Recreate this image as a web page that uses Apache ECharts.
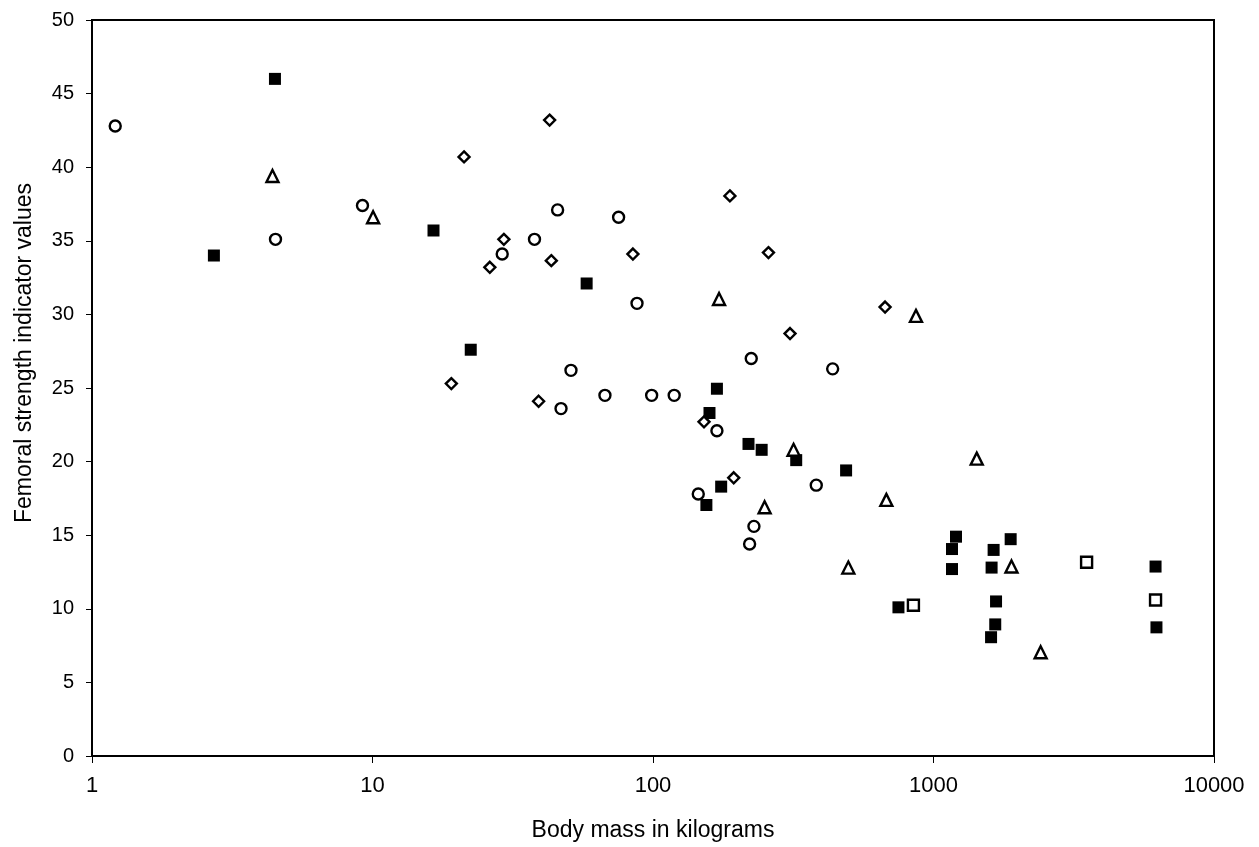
<!DOCTYPE html>
<html>
<head>
<meta charset="utf-8">
<script src="https://cdn.jsdelivr.net/npm/echarts@6/dist/echarts.min.js"></script>
<style>
  html, body { margin: 0; padding: 0; background: #fff; }
  #chart { width: 1259px; height: 847px; }
</style>
</head>
<body>
<div id="chart"></div>
<script>
// [body mass kg, femoral strength indicator]
var filledSquares = [
    [2.72, 34.0], [4.49, 46.0], [16.5, 35.7], [22.4, 27.6], [58, 32.1],
    [155, 17.05], [159, 23.3], [169, 24.95], [175, 18.3], [219, 21.2],
    [244, 20.8], [324, 20.1], [488, 19.4], [750, 10.1], [1164, 14.06],
    [1164, 12.7], [1203, 14.9], [1604, 8.07], [1611, 12.8], [1638, 14.0],
    [1660, 8.94], [1671, 10.5], [1884, 14.73], [6189, 12.87], [6235, 8.74]
]
var openCircles = [
    [1.21, 42.8], [4.51, 35.1], [9.21, 37.4], [29.0, 34.1], [37.8, 35.1],
    [45.7, 37.1], [47, 23.6], [51, 26.2], [67.4, 24.5], [75.4, 36.6],
    [87.7, 30.75], [98.9, 24.5], [119, 24.5], [145, 17.8], [169, 22.1],
    [221, 14.4], [224, 27.0], [229, 15.6], [382, 18.4], [437, 26.3]
]
var openDiamonds = [
    [19.1, 25.3], [21.2, 40.7], [26.2, 33.2], [29.4, 35.1], [39.1, 24.1],
    [42.8, 43.2], [43.4, 33.65], [84.8, 34.1], [152, 22.7], [188, 38.05],
    [194, 18.9], [258, 34.2], [308, 28.7], [672, 30.5]
]
var openTriangles = [
    [4.40, 39.4], [10.05, 36.6], [172, 31.05], [250, 16.9], [317, 20.8],
    [497, 12.8], [679, 17.4], [866, 29.9], [1426, 20.2], [1897, 12.87],
    [2410, 7.05]
]
var openSquares = [
    [848, 10.24], [3514, 13.16], [6189, 10.6]
]

var fontFamily = '"Liberation Sans", Arial, sans-serif'

function openSeries(name, symbol, size, data){
    return {
        name: name,
        type: 'scatter',
        symbol: symbol,
        symbolSize: size,
        itemStyle: { color: '#fff', borderColor: '#000', borderWidth: 2.4, opacity: 1 },
        data: data
    }
}

var myChart = echarts.init(document.getElementById('chart'))
var option = {
    backgroundColor: '#fff',
    animation: false,
    grid: {
        left: 92,
        right: 45,
        top: 20,
        bottom: 86,
        show: true,
        borderColor: '#000',
        borderWidth: 2,
        backgroundColor: 'transparent'
    },
    xAxis: {
        type: 'log',
        logBase: 10,
        min: 1,
        max: 10000,
        name: 'Body mass in kilograms',
        nameLocation: 'middle',
        nameGap: 63,
        nameTextStyle: { fontFamily: fontFamily, fontSize: 23, color: '#000' },
        axisLine: { show: true, lineStyle: { color: '#000', width: 2 } },
        axisTick: { show: true, inside: false, length: 7, lineStyle: { color: '#000' } },
        minorTick: { show: false },
        splitLine: { show: false },
        axisLabel: {
            margin: 19,
            fontFamily: fontFamily,
            fontSize: 22,
            color: '#000',
            formatter: function (v) { return String(v) }
        }
    },
    yAxis: {
        type: 'value',
        min: 0,
        max: 50,
        interval: 5,
        name: 'Femoral strength indicator values',
        nameLocation: 'middle',
        nameGap: 56,
        nameTextStyle: {
            fontFamily: fontFamily, fontSize: 23, color: '#000',
            padding: [0, 0, 0, 70]
        },
        axisLine: { show: true, lineStyle: { color: '#000', width: 2 } },
        axisTick: { show: true, inside: false, length: 6, lineStyle: { color: '#000' } },
        splitLine: { show: false },
        axisLabel: {
            margin: 18,
            fontFamily: fontFamily,
            fontSize: 20,
            color: '#000'
        }
    },
    series: [
        {
            name: 'filled squares',
            type: 'scatter',
            symbol: 'rect',
            symbolSize: 12,
            itemStyle: { color: '#000', opacity: 1 },
            data: filledSquares
        },
        openSeries('circles', 'circle', 11, openCircles),
        openSeries('diamonds', 'diamond', 11, openDiamonds),
        openSeries('triangles', 'triangle', 12, openTriangles),
        openSeries('open squares', 'rect', 11, openSquares)
    ]
}
myChart.setOption(option)
</script>
</body>
</html>
